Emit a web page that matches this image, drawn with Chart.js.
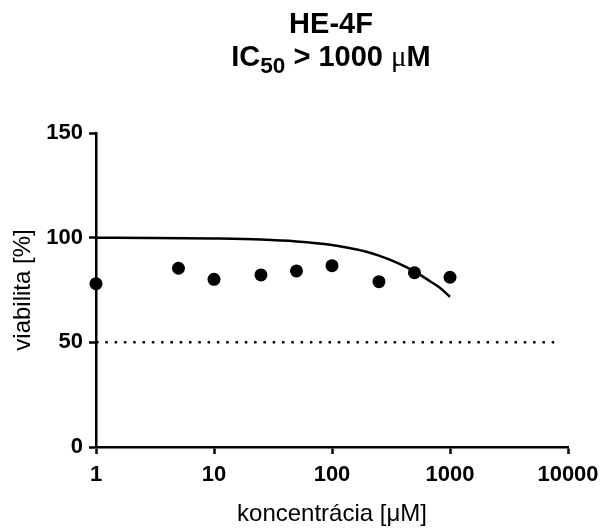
<!DOCTYPE html>
<html>
<head>
<meta charset="utf-8">
<script src="https://cdn.jsdelivr.net/npm/chart.js@4.4.1/dist/chart.umd.min.js"></script>
<style>
    body { margin: 0; background: white; overflow: hidden; }
    #wrap { position: relative; width: 602px; height: 529px; }
    #chart { display: block; }
    #title {
        position: absolute;
        left: 331px;
        top: 7px;
        transform: translateX(-50%);
        white-space: nowrap;
        text-align: center;
        font: bold 29px "Liberation Sans", Arial, sans-serif;
        line-height: 33px;
        color: black;
    }
    #title sub { font-size: 0.78em; position: relative; top: 7px; vertical-align: baseline; }
    #title .mu { font-family: "Liberation Serif", serif; font-weight: normal; }
</style>
</head>
<body>
<div id="wrap">
    <canvas id="chart" width="602" height="529"></canvas>
    <div id="title">HE-4F<br>IC<sub>50</sub> &gt; 1000 <span class="mu">μ</span>M</div>
</div>
<script>
// measured points
const concentrations = [1, 5, 10, 25, 50, 100, 250, 500, 1000];
const viability = [78, 85.4, 80.1, 82.2, 84.1, 86.6, 79, 83.3, 81.1];

// fitted curve
const fitConcentrations = [1, 3, 10, 25, 50, 100, 133, 185, 250, 354, 500, 677, 800, 1000];
const fitViability = [100, 99.9, 99.6, 99.1, 98.2, 96.5, 95.3, 93.6, 91.4, 88.1, 83.9, 79.2, 76.5, 71.8];

// dotted 50 % line
const cutoffConcentrations = [1, 8200];
const cutoffViability = [50, 50];

const xTicks = [1, 10, 100, 1000, 10000];
const yTicks = [0, 50, 100, 150];

const FONT = '"Liberation Sans", Arial, sans-serif';

function toPoints(xs, ys) {
    return xs.map((x, i) => ({ x: x, y: ys[i] }));
}

function axisGrid() {
    return {
        display: true,
        drawOnChartArea: false,
        drawTicks: true,
        tickLength: 7,
        tickWidth: 2.5,
        color: 'black',
    };
}

const datasets = [
    {
        label: 'HE-4F',
        data: toPoints(concentrations, viability),
        showLine: false,
        pointRadius: 6.5,
        pointBackgroundColor: 'black',
        pointBorderWidth: 0,
        clip: false,
    },
    {
        label: 'fit',
        data: toPoints(fitConcentrations, fitViability),
        showLine: true,
        borderColor: 'black',
        borderWidth: 2.5,
        pointRadius: 0,
        cubicInterpolationMode: 'monotone',
        clip: false,
    },
    {
        label: 'IC50',
        data: toPoints(cutoffConcentrations, cutoffViability),
        showLine: true,
        borderColor: 'black',
        borderWidth: 2.5,
        borderDash: [2.5, 6.8],
        pointRadius: 0,
        clip: false,
    },
];

const ctx = document.getElementById('chart');

new Chart(ctx, {
    type: 'scatter',
    data: { datasets: datasets },
    options: {
        responsive: false,
        animation: false,
        devicePixelRatio: 1,
        layout: { padding: { top: 133, right: 34, left: 0, bottom: 0 } },
        plugins: {
            legend: { display: false },
            tooltip: { enabled: false },
        },
        scales: {
            x: {
                type: 'logarithmic',
                position: 'bottom',
                min: 1,
                max: 10000,
                afterBuildTicks: (scale) => {
                    scale.ticks = xTicks.map((v) => ({ value: v }));
                },
                afterFit: (scale) => {
                    // fixed box, labels may hang into the padding
                    scale.height = 82;
                    scale.paddingLeft = 0;
                    scale.paddingRight = 0;
                },
                ticks: {
                    callback: (value) => String(value),
                    color: 'black',
                    padding: 8,
                    maxRotation: 0,
                    autoSkip: false,
                    font: { family: FONT, size: 22, weight: 'bold' },
                },
                grid: axisGrid(),
                border: { display: true, color: 'black', width: 2.5 },
                title: {
                    display: true,
                    text: 'koncentrácia [μM]',
                    color: 'black',
                    padding: { top: 0, bottom: 0 },
                    font: { family: FONT, size: 24 },
                },
            },
            y: {
                type: 'linear',
                min: 0,
                max: 150,
                afterBuildTicks: (scale) => {
                    scale.ticks = yTicks.map((v) => ({ value: v }));
                },
                afterFit: (scale) => {
                    scale.width = 96;
                    scale.paddingTop = 0;
                    scale.paddingBottom = 0;
                },
                ticks: {
                    color: 'black',
                    padding: 6,
                    font: { family: FONT, size: 22, weight: 'bold' },
                },
                grid: axisGrid(),
                border: { display: true, color: 'black', width: 2.5 },
                title: {
                    display: true,
                    text: 'viabilita [%]',
                    color: 'black',
                    padding: { top: 9, bottom: 0 },
                    font: { family: FONT, size: 24 },
                },
            },
        },
    },
});
</script>
</body>
</html>
